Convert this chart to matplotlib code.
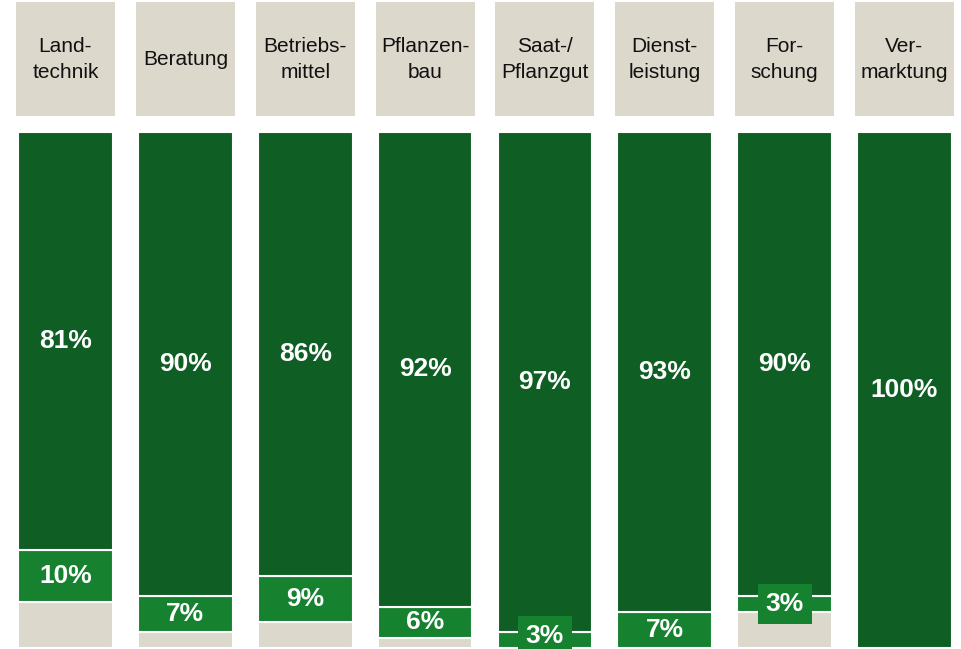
import matplotlib
matplotlib.use("Agg")
import matplotlib.pyplot as plt

categories = ["Land-\ntechnik", "Beratung", "Betriebs-\nmittel", "Pflanzen-\nbau",
              "Saat-/\nPflanzgut", "Dienst-\nleistung", "For-\nschung", "Ver-\nmarktung"]
top_share = [81, 90, 86, 92, 97, 93, 90, 100]      # dark green
mid_share = [10, 7, 9, 6, 3, 7, 3, 0]              # light green
rest_share = [100 - t - m for t, m in zip(top_share, mid_share)]  # beige remainder

DARK = "#0F5E24"
LIGHT = "#168230"
BEIGE = "#DDD8CC"

plt.rcParams['font.family'] = ['Liberation Sans', 'DejaVu Sans']

fig = plt.figure(figsize=(9.61, 6.49), dpi=100)
ax = fig.add_axes([0, 0, 1, 1])
ax.set_xlim(-0.5465, 7.472)
ax.set_ylim(-0.2, 125.6)
ax.axis("off")

x = list(range(len(categories)))
w = 0.79

ax.bar(x, rest_share, width=w, bottom=0, color=BEIGE, edgecolor="white", linewidth=1.5)
ax.bar(x, mid_share, width=w, bottom=rest_share, color=LIGHT, edgecolor="white", linewidth=1.5)
bottoms_top = [r + m for r, m in zip(rest_share, mid_share)]
ax.bar(x, top_share, width=w, bottom=bottoms_top, color=DARK, edgecolor="white", linewidth=1.5)

# header boxes
ax.bar(x, [22.1] * len(x), width=0.826, bottom=103.1, color=BEIGE, edgecolor="none")
for xi, cat in zip(x, categories):
    ax.text(xi, 114.1, cat, ha="center", va="center", fontsize=15,
            color="#111111", linespacing=1.5)

for xi, t, m, r in zip(x, top_share, mid_share, rest_share):
    ax.text(xi, r + m + t / 2, f"{t}%", ha="center", va="center", fontsize=19,
            fontweight="bold", color="white")
    if m > 0:
        kw = {}
        y = r + m / 2
        if m < 5:
            kw["bbox"] = dict(boxstyle="square,pad=0.3", facecolor=LIGHT, edgecolor="none")
            y = max(y, 2.4)
        ax.text(xi, y, f"{m}%", ha="center", va="center", fontsize=19,
                fontweight="bold", color="white", **kw)

fig.savefig("out.png", dpi=100)
